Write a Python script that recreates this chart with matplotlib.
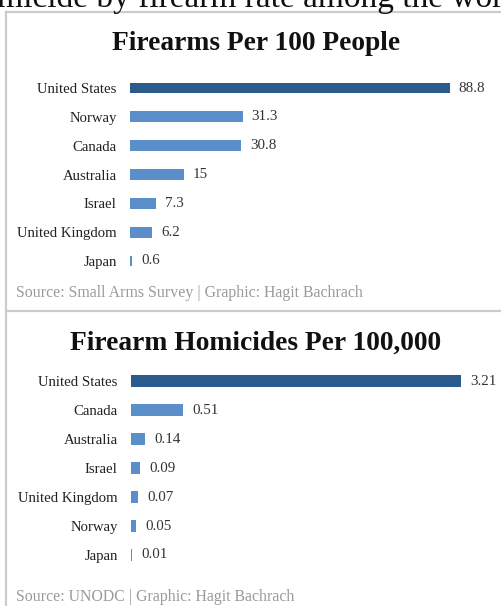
import matplotlib
matplotlib.use("Agg")
import matplotlib.pyplot as plt
from matplotlib.lines import Line2D

# ---- data ----
guns_countries = ["United States", "Norway", "Canada", "Australia", "Israel", "United Kingdom", "Japan"]
guns_values = [88.8, 31.3, 30.8, 15, 7.3, 6.2, 0.6]
guns_labels = ["88.8", "31.3", "30.8", "15", "7.3", "6.2", "0.6"]

hom_countries = ["United States", "Canada", "Australia", "Israel", "United Kingdom", "Norway", "Japan"]
hom_values = [3.21, 0.51, 0.14, 0.09, 0.07, 0.05, 0.01]
hom_labels = ["3.21", "0.51", "0.14", "0.09", "0.07", "0.05", "0.01"]

title1 = "Firearms Per 100 People"
title2 = "Firearm Homicides Per 100,000"
source1 = "Source: Small Arms Survey | Graphic: Hagit Bachrach"
source2 = "Source: UNODC | Graphic: Hagit Bachrach"
header = "homicide by firearm rate among the world"

W, H = 502, 606
DARK = "#2b5a8c"
LIGHT = "#5b8fca"
SERIF = ["Liberation Serif", "DejaVu Serif"]

fig = plt.figure(figsize=(W / 100, H / 100), dpi=100)
fig.patch.set_facecolor("white")


def px_rect(x0, y0, x1, y1):
    return [x0 / W, 1 - y1 / H, (x1 - x0) / W, (y1 - y0) / H]


def panel(rect, countries, values, labels, xmax, label_gap):
    ax = fig.add_axes(rect)
    n = len(values)
    ys = list(range(n))
    colors = [DARK] + [LIGHT] * (n - 1)
    ax.barh(ys, values, height=0.38, color=colors, edgecolor="none")
    ax.set_xlim(0, xmax)
    ax.set_ylim(n - 0.5, -0.5)
    ax.set_yticks(ys)
    ax.set_yticklabels(countries, fontfamily=SERIF, fontsize=10.6, color="#222222")
    ax.tick_params(axis="y", length=0, pad=9.5)
    ax.set_xticks([])
    for s in ax.spines.values():
        s.set_visible(False)
    for y, v, lab in zip(ys, values, labels):
        ax.text(v + label_gap, y, lab, va="center", ha="left",
                fontfamily=SERIF, fontsize=10.8, color="#333333")
    ax.patch.set_alpha(0)
    return ax


panel(px_rect(130, 73.6, 490, 275.4), guns_countries, guns_values, guns_labels, 100, 2.5)
panel(px_rect(131, 366.5, 491, 569.5), hom_countries, hom_values, hom_labels, 360 / 102.8, 0.09)

# titles
fig.text(256 / W, 1 - 44 / H, title1, ha="center", va="center",
         fontfamily=SERIF, fontweight="bold", fontsize=19.8, color="#111111")
fig.text(256 / W, 1 - 343 / H, title2, ha="center", va="center",
         fontfamily=SERIF, fontweight="bold", fontsize=19.8, color="#111111")

# sources
fig.text(16 / W, 1 - 293 / H, source1, ha="left", va="center",
         fontfamily=SERIF, fontsize=11.4, color="#9a9a9a")
fig.text(16 / W, 1 - 597 / H, source2, ha="left", va="center",
         fontfamily=SERIF, fontsize=11.4, color="#9a9a9a")

# clipped header text (cut off at the top edge, as in the reference screenshot)
fig.text(-36 / W, 1 - 7 / H, header, ha="left", va="baseline",
         fontfamily=SERIF, fontsize=24, color="#111111")

# box lines
lc = "#cccccc"
fig.add_artist(Line2D([6 / W, 6 / W], [1 - 12 / H, 0], transform=fig.transFigure, color=lc, lw=1.6))
fig.add_artist(Line2D([6 / W, 1], [1 - 12 / H, 1 - 12 / H], transform=fig.transFigure, color=lc, lw=1.6))
fig.add_artist(Line2D([6 / W, 1], [1 - 311 / H, 1 - 311 / H], transform=fig.transFigure, color=lc, lw=1.6))

fig.savefig("out.png", dpi=100, facecolor="white")
